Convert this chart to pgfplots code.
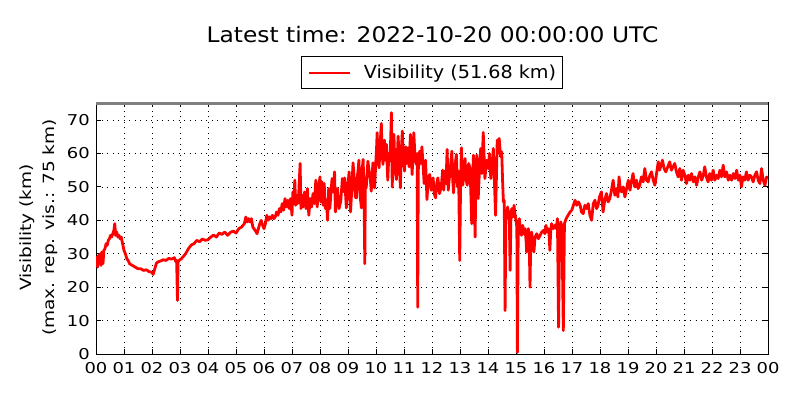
\documentclass[border=0pt]{standalone}
\usepackage{pgfplots}
\pgfplotsset{compat=1.18}
\usepackage{pgfplotstable}
\usepackage{fontspec}
\setmainfont{DejaVu Sans}
\newfontfamily\tickf[FakeStretch=1.2]{DejaVu Sans}
\newfontfamily\legf[FakeStretch=1.07]{DejaVu Sans}
\newfontfamily\titf[FakeStretch=1.09]{DejaVu Sans}
\pgfplotstableread{
x y
0.00 27
0.03 29
0.06 26
0.09 29.5
0.12 27.5
0.15 30
0.18 26.5
0.21 30.5
0.25 27
0.28 31
0.32 31.5
0.36 33
0.40 32.5
0.44 34
0.48 34.5
0.52 35.5
0.56 35
0.60 36
0.64 37
0.67 39
0.70 35.5
0.74 36.5
0.78 35
0.82 35.5
0.86 34.5
0.90 35
0.95 33
1.00 31
1.05 30
1.10 28.5
1.15 28
1.20 27
1.30 26.5
1.40 26
1.50 25.5
1.60 25.5
1.70 25
1.80 25.2
1.90 24.6
2.00 24.5
2.04 23.8
2.10 25.5
2.15 27
2.20 27.5
2.30 27.8
2.40 28.2
2.50 28
2.60 28.6
2.70 28.4
2.80 28.8
2.85 27.6
2.88 28
2.91 16
2.93 27.5
2.97 28
3.05 28.5
3.10 29
3.20 30
3.30 31.5
3.40 32.6
3.50 33
3.60 34
3.70 33.6
3.80 34.4
3.90 34
4.00 34.2
4.10 35
4.20 35.6
4.30 35
4.40 36.2
4.50 35.8
4.60 36.5
4.70 35.5
4.80 36.4
4.90 36.8
5.00 36.2
5.10 37.5
5.20 38
5.30 39
5.35 41
5.40 39.5
5.45 40.5
5.50 39.5
5.55 40.5
5.60 38
5.64 37.5
5.70 36.8
5.75 36
5.80 37.5
5.85 39
5.90 40
5.95 38.5
6.00 37.5
6.05 39
6.10 41.5
6.15 40
6.20 41
6.25 40.5
6.30 41.5
6.35 40.5
6.40 41
6.45 42.5
6.50 41.5
6.55 43.5
6.60 42.5
6.65 45
6.70 43
6.75 46.5
6.80 44
6.85 46
6.90 43.5
6.95 46.5
7.00 41.5
7.03 48.5
7.06 45
7.10 52
7.13 44.5
7.17 47.5
7.20 45
7.24 48
7.29 57
7.32 43.5
7.36 47.5
7.40 44
7.45 48.5
7.50 43.5
7.55 49.5
7.60 41.5
7.65 46.5
7.70 44
7.75 48
7.80 45
7.85 52
7.90 44
7.95 50
8.00 53
8.03 45.5
8.07 51.5
8.11 44.5
8.15 51
8.19 43.5
8.23 46
8.27 40
8.31 49.5
8.35 43.5
8.39 48
8.43 52.5
8.47 48.5
8.52 54.5
8.55 42.5
8.60 47
8.62 49.5
8.68 43.5
8.74 45.7
8.80 52.5
8.86 48.5
8.88 52.7
8.94 43.7
9.00 51
9.04 54.5
9.09 42.5
9.12 47
9.18 57.2
9.21 54
9.26 47
9.30 46.7
9.33 52.7
9.36 55
9.39 58
9.43 47.5
9.48 43.7
9.50 54.5
9.54 58.2
9.57 50
9.60 27
9.62 51.5
9.65 49.7
9.71 57.7
9.75 55
9.80 52
9.83 48.7
9.89 57.2
9.95 49.7
9.98 55.5
10.02 61.5
10.04 66.2
10.08 58
10.11 55.7
10.15 63
10.19 69
10.22 60
10.25 56.7
10.30 64
10.34 58
10.37 62.7
10.42 52
10.46 60
10.49 57.7
10.52 63
10.55 72.2
10.58 50
10.61 60
10.64 65.7
10.68 55
10.73 52.2
10.79 65.2
10.83 58
10.87 49.7
10.90 60
10.94 66.7
10.98 58
11.02 54.7
11.06 62
11.10 57
11.14 61.7
11.18 56
11.23 65.7
11.29 53.7
11.35 66.2
11.40 58
11.44 56.7
11.47 60
11.49 14
11.51 55
11.56 60.7
11.60 57
11.64 62
11.68 56.7
11.72 51
11.77 58
11.82 46.2
11.87 53
11.92 53.7
11.97 49
12.04 52.7
12.08 48
12.13 46.7
12.17 51
12.21 52.7
12.27 48
12.33 50
12.38 55
12.42 49
12.45 54.7
12.50 51
12.54 61.2
12.58 49
12.63 53.7
12.67 57
12.71 60.7
12.74 52
12.77 48.2
12.82 56
12.87 59.7
12.91 50
12.95 54.7
12.99 28
13.02 50.5
13.05 61.7
13.10 50.5
13.14 55
13.18 58.5
13.22 52
13.26 50.5
13.31 57
13.36 55.5
13.42 39
13.45 52
13.48 59.5
13.54 35
13.57 55
13.60 59.5
13.65 46.5
13.70 56
13.74 61.5
13.78 54
13.83 66.3
13.89 52.5
13.95 58
14.01 55.5
14.05 60
14.10 52.5
14.15 57
14.19 61.5
14.27 41.5
14.33 64
14.36 60
14.40 64.5
14.45 59
14.49 60.5
14.52 52
14.55 45.5
14.58 46
14.61 13
14.64 43
14.67 40.5
14.70 44
14.73 42.5
14.76 41
14.79 25
14.82 42
14.85 43.5
14.89 41
14.93 44.5
14.96 42
14.99 40.5
15.03 38
15.05 0.5
15.08 38
15.12 40.5
15.16 36.5
15.20 35.5
15.24 38.5
15.28 36
15.32 37.5
15.36 34
15.38 30.5
15.41 36
15.44 37.5
15.47 35
15.50 20
15.53 35
15.56 36.5
15.60 33
15.64 30.5
15.68 35
15.74 36
15.80 34.5
15.86 35.5
15.92 36.5
15.98 37
16.03 36
16.07 38.5
16.11 36.5
16.15 37.5
16.18 36
16.21 31
16.24 37
16.27 39
16.33 37.5
16.39 38.5
16.44 37.5
16.48 40.5
16.52 8
16.56 38
16.60 39.5
16.64 38
16.69 7
16.73 39
16.79 40.5
16.86 41.5
16.93 42.5
16.99 43
17.05 44.5
17.11 46
17.17 44.5
17.23 45.5
17.29 44.5
17.34 42.5
17.40 42
17.46 44.5
17.52 43.5
17.58 45
17.64 41.5
17.70 40
17.76 45
17.82 46
17.88 43.5
17.93 44.5
17.98 47
18.05 48.5
18.11 42.5
18.17 46
18.23 48
18.29 45.5
18.35 46.5
18.41 49
18.47 52
18.53 47.5
18.59 49.5
18.64 47
18.68 53
18.73 49
18.77 48.5
18.83 50
18.89 47
18.95 49.5
19.01 52
19.07 49
19.12 51.5
19.18 54
19.24 50
19.30 52
19.36 49.5
19.42 50.5
19.48 53
19.54 51.5
19.60 55.5
19.66 52
19.72 51.5
19.78 53.5
19.84 54.5
19.90 52
19.96 50.5
20.02 54
20.08 57.5
20.13 55
20.18 56.5
20.23 58
20.29 55.5
20.35 54.5
20.42 56
20.49 57.5
20.55 55
20.61 56
20.67 57
20.73 54.5
20.79 53
20.85 55.5
20.91 52
20.97 55
21.03 53.5
21.09 51
21.15 53.5
21.21 52
21.27 54
21.33 51.5
21.39 53
21.45 50.5
21.51 53
21.57 54.5
21.63 52
21.69 53.5
21.74 56
21.80 53
21.86 51.5
21.92 54
21.98 52
22.04 55
22.10 52
22.16 53.5
22.22 52.5
22.28 55
22.34 53
22.40 56.5
22.46 53
22.52 54.5
22.58 52
22.64 53.5
22.70 52
22.76 54
22.82 52.5
22.88 55
22.94 52
23.00 53.5
23.05 50
23.11 53
23.17 52
23.23 54.5
23.29 52
23.35 53.5
23.41 53
23.47 51.5
23.53 53.5
23.59 54.5
23.65 52
23.71 51
23.77 55.5
23.83 52
23.89 50.5
23.95 53
24.00 52.5
}\vis
\begin{document}
\begin{tikzpicture}
\useasboundingbox (0,0) rectangle (800bp,400bp);
\begin{axis}[
  at={(96bp,46bp)}, anchor=south west,
  scale only axis, width=672bp, height=252bp,
  xmin=0, xmax=24, ymin=0, ymax=75.4,
  xtick={0,...,24},
  xticklabels={00,01,02,03,04,05,06,07,08,09,10,11,12,13,14,15,16,17,18,19,20,21,22,23,00},
  ytick={0,10,...,70},
  tick align=inside, xtick pos=both, ytick pos=both,
  major tick length=5bp,
  tick style={black, line width=0.8pt},
  axis line style={black, line width=1pt},
  grid=major,
  major grid style={black, line width=0.6pt, dash pattern=on 1.2bp off 4.3bp},
  /pgf/number format/assume math mode=true,
  ticklabel style={font=\tickf\fontsize{15}{18}\selectfont, inner sep=0pt,
    text height=10.9bp, text depth=0pt},
  xticklabel style={anchor=north, yshift=-8.7bp},
  yticklabel style={anchor=east, xshift=-6bp},
  ylabel={Visibility (km)\\(max. rep. vis.: 75 km)},
  ylabel style={at={(axis description cs:-0.0856,0.502)}, anchor=center,
    align=center, font=\tickf\fontsize{15.5}{23}\selectfont},
  legend style={at={(0.5,1)}, anchor=south, yshift=13bp, draw=black, line width=0.8pt,
    font=\legf\fontsize{18}{21}\selectfont, inner xsep=0pt, inner ysep=0pt,
    nodes={inner sep=0pt}},
  legend image code/.code={\path[draw=none, fill=none] (-7bp,-16bp) rectangle (55bp,16bp);
    \draw[#1, line width=2pt] (0bp,0bp) -- (41bp,0bp);},
]
\addplot[gray, line width=3pt, forget plot] coordinates {(0,75) (24,75)};
\addplot[red, line width=2.8pt, line join=round] table[x=x,y=y] {\vis};
\addlegendentry{Visibility (51.68 km)\hspace*{6bp}}
\end{axis}
\node[anchor=base, inner sep=0pt] at (432.5bp,357.7bp) {\titf\fontsize{21.5}{24}\selectfont Latest time: 2022-10-20 00:00:00 UTC};
\end{tikzpicture}
\end{document}
